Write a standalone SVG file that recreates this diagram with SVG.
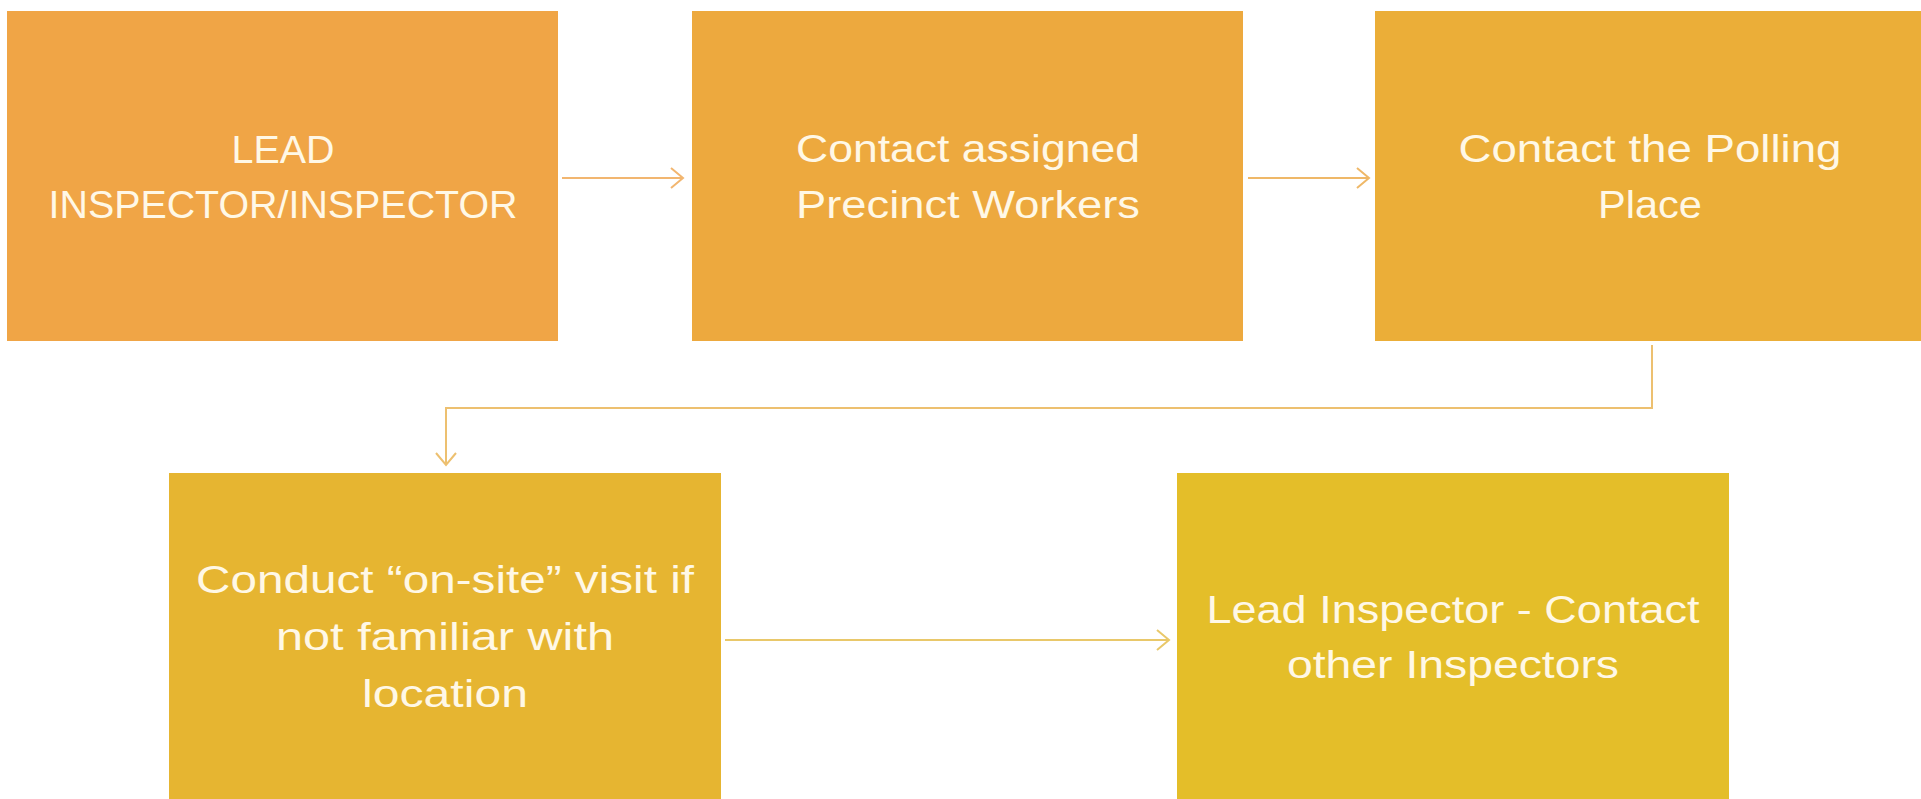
<svg xmlns="http://www.w3.org/2000/svg" width="1921" height="799" viewBox="0 0 1921 799">
<style>
.lbl{font-family:"Liberation Sans",Arial,sans-serif;font-size:38px;fill:#FFF8E6;text-anchor:middle}
.cn{fill:none;stroke-width:2}
</style>
<defs>
<marker id="ah1" markerUnits="userSpaceOnUse" markerWidth="30" markerHeight="30" refX="13" refY="11" orient="auto"><path d="M1,1 L13,11 L1,21" fill="none" stroke="#F2B670" stroke-width="2"/></marker>
<marker id="ah2" markerUnits="userSpaceOnUse" markerWidth="30" markerHeight="30" refX="13" refY="11" orient="auto"><path d="M1,1 L13,11 L1,21" fill="none" stroke="#EFB868" stroke-width="2"/></marker>
<marker id="ah3" markerUnits="userSpaceOnUse" markerWidth="30" markerHeight="30" refX="13" refY="11" orient="auto"><path d="M1,1 L13,11 L1,21" fill="none" stroke="#EDC070" stroke-width="2"/></marker>
<marker id="ah4" markerUnits="userSpaceOnUse" markerWidth="30" markerHeight="30" refX="13" refY="11" orient="auto"><path d="M1,1 L13,11 L1,21" fill="none" stroke="#E9C86A" stroke-width="2"/></marker>
</defs>
<rect width="1921" height="799" fill="#FFFFFF"/>
<g id="connectors">
<line class="cn" x1="562" y1="178" x2="683" y2="178" stroke="#F2B670" marker-end="url(#ah1)"/>
<line class="cn" x1="1248" y1="178" x2="1369" y2="178" stroke="#EFB868" marker-end="url(#ah2)"/>
<polyline class="cn" points="1652,345 1652,408 446,408 446,465" stroke="#EDC070" marker-end="url(#ah3)"/>
<line class="cn" x1="725" y1="640" x2="1169" y2="640" stroke="#E9C86A" marker-end="url(#ah4)"/>
</g>
<g id="node1">
<rect x="7" y="11" width="551" height="330" fill="#F0A546"/>
<text class="lbl" x="283" y="163" textLength="103" lengthAdjust="spacingAndGlyphs">LEAD</text>
<text class="lbl" x="283" y="218" textLength="469" lengthAdjust="spacingAndGlyphs">INSPECTOR/INSPECTOR</text>
</g>
<g id="node2">
<rect x="692" y="11" width="551" height="330" fill="#EDA93E"/>
<text class="lbl" x="968" y="162" textLength="344" lengthAdjust="spacingAndGlyphs">Contact assigned</text>
<text class="lbl" x="968" y="218" textLength="344" lengthAdjust="spacingAndGlyphs">Precinct Workers</text>
</g>
<g id="node3">
<rect x="1375" y="11" width="546" height="330" fill="#EBAE38"/>
<text class="lbl" x="1650" y="162" textLength="383" lengthAdjust="spacingAndGlyphs">Contact the Polling</text>
<text class="lbl" x="1650" y="218" textLength="104" lengthAdjust="spacingAndGlyphs">Place</text>
</g>
<g id="node4">
<rect x="169" y="473" width="552" height="326" fill="#E6B531"/>
<text class="lbl" x="445" y="593" textLength="498" lengthAdjust="spacingAndGlyphs">Conduct “on-site” visit if</text>
<text class="lbl" x="445" y="650" textLength="338" lengthAdjust="spacingAndGlyphs">not familiar with</text>
<text class="lbl" x="445" y="707" textLength="166" lengthAdjust="spacingAndGlyphs">location</text>
</g>
<g id="node5">
<rect x="1177" y="473" width="552" height="326" fill="#E4BE29"/>
<text class="lbl" x="1453" y="623" textLength="493" lengthAdjust="spacingAndGlyphs">Lead Inspector - Contact</text>
<text class="lbl" x="1453" y="678" textLength="332" lengthAdjust="spacingAndGlyphs">other Inspectors</text>
</g>
</svg>
